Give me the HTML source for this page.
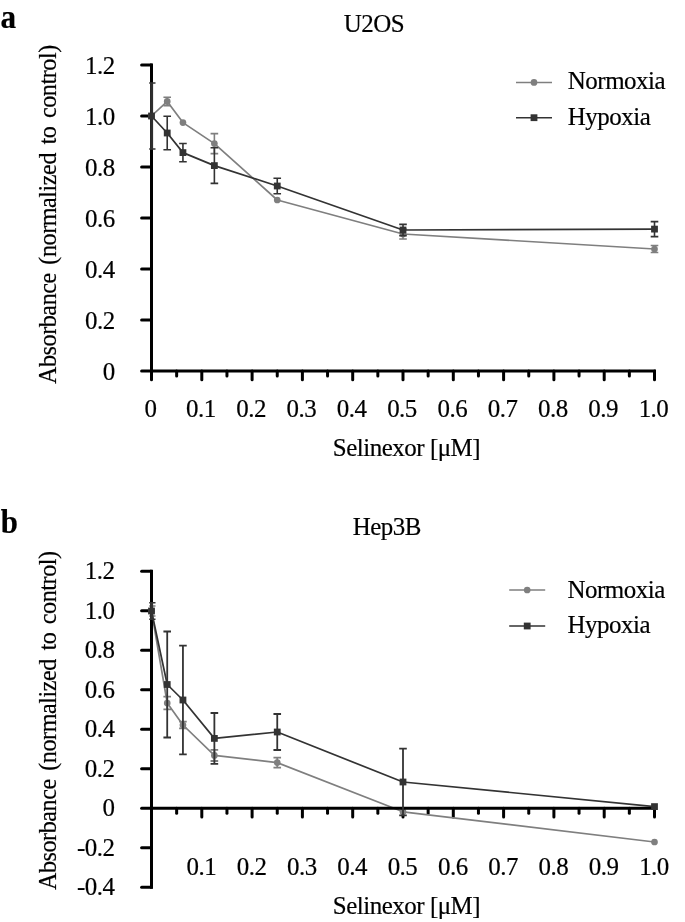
<!DOCTYPE html>
<html><head><meta charset="utf-8"><title>Selinexor</title>
<style>
html,body{margin:0;padding:0;background:#fff;}
body{width:685px;height:922px;overflow:hidden;}
svg{display:block;will-change:transform;font-family:"Liberation Serif",serif;font-size:24px;fill:#000;}
text{stroke:#000;stroke-width:0.2px;}
</style></head><body>
<svg width="685" height="922" viewBox="0 0 685 922">
<rect width="685" height="922" fill="#fff"/>
<g id="chartA">
<path d="M141.60 320.00H151.50" stroke="#000000" stroke-width="3" stroke-linecap="round" fill="none"/><path d="M141.60 269.00H151.50" stroke="#000000" stroke-width="3" stroke-linecap="round" fill="none"/><path d="M141.60 218.00H151.50" stroke="#000000" stroke-width="3" stroke-linecap="round" fill="none"/><path d="M141.60 167.00H151.50" stroke="#000000" stroke-width="3" stroke-linecap="round" fill="none"/><path d="M141.60 116.00H151.50" stroke="#000000" stroke-width="3" stroke-linecap="round" fill="none"/><path d="M141.60 65.00H151.50" stroke="#000000" stroke-width="3" stroke-linecap="round" fill="none"/>
<path d="M151.50 371.00V379.80" stroke="#000000" stroke-width="3" stroke-linecap="round" fill="none"/><path d="M176.65 371.00V376.00" stroke="#000000" stroke-width="3" stroke-linecap="round" fill="none"/><path d="M201.80 371.00V379.80" stroke="#000000" stroke-width="3" stroke-linecap="round" fill="none"/><path d="M226.95 371.00V376.00" stroke="#000000" stroke-width="3" stroke-linecap="round" fill="none"/><path d="M252.10 371.00V379.80" stroke="#000000" stroke-width="3" stroke-linecap="round" fill="none"/><path d="M277.25 371.00V376.00" stroke="#000000" stroke-width="3" stroke-linecap="round" fill="none"/><path d="M302.40 371.00V379.80" stroke="#000000" stroke-width="3" stroke-linecap="round" fill="none"/><path d="M327.55 371.00V376.00" stroke="#000000" stroke-width="3" stroke-linecap="round" fill="none"/><path d="M352.70 371.00V379.80" stroke="#000000" stroke-width="3" stroke-linecap="round" fill="none"/><path d="M377.85 371.00V376.00" stroke="#000000" stroke-width="3" stroke-linecap="round" fill="none"/><path d="M403.00 371.00V379.80" stroke="#000000" stroke-width="3" stroke-linecap="round" fill="none"/><path d="M428.15 371.00V376.00" stroke="#000000" stroke-width="3" stroke-linecap="round" fill="none"/><path d="M453.30 371.00V379.80" stroke="#000000" stroke-width="3" stroke-linecap="round" fill="none"/><path d="M478.45 371.00V376.00" stroke="#000000" stroke-width="3" stroke-linecap="round" fill="none"/><path d="M503.60 371.00V379.80" stroke="#000000" stroke-width="3" stroke-linecap="round" fill="none"/><path d="M528.75 371.00V376.00" stroke="#000000" stroke-width="3" stroke-linecap="round" fill="none"/><path d="M553.90 371.00V379.80" stroke="#000000" stroke-width="3" stroke-linecap="round" fill="none"/><path d="M579.05 371.00V376.00" stroke="#000000" stroke-width="3" stroke-linecap="round" fill="none"/><path d="M604.20 371.00V379.80" stroke="#000000" stroke-width="3" stroke-linecap="round" fill="none"/><path d="M629.35 371.00V376.00" stroke="#000000" stroke-width="3" stroke-linecap="round" fill="none"/><path d="M654.50 371.00V379.80" stroke="#000000" stroke-width="3" stroke-linecap="round" fill="none"/>
<polyline points="151.50,116.00 167.22,101.40 182.94,122.60 214.38,143.60 277.25,200.00 403.00,234.00 654.50,249.00" fill="none" stroke="#7f7f7f" stroke-width="1.7" stroke-linejoin="round"/>
<path d="M167.22 97.20V105.60M163.42 97.20H171.02M163.42 105.60H171.02" stroke="#7f7f7f" stroke-width="1.6" fill="none"/>
<path d="M214.38 133.60V153.60M210.57 133.60H218.18M210.57 153.60H218.18" stroke="#7f7f7f" stroke-width="1.6" fill="none"/>
<path d="M403.00 229.00V239.00M399.20 229.00H406.80M399.20 239.00H406.80" stroke="#7f7f7f" stroke-width="1.6" fill="none"/>
<path d="M654.50 245.50V252.50M650.70 245.50H658.30M650.70 252.50H658.30" stroke="#7f7f7f" stroke-width="1.6" fill="none"/>
<circle cx="151.50" cy="116.00" r="3.35" fill="#7f7f7f"/><circle cx="167.22" cy="101.40" r="3.35" fill="#7f7f7f"/><circle cx="182.94" cy="122.60" r="3.35" fill="#7f7f7f"/><circle cx="214.38" cy="143.60" r="3.35" fill="#7f7f7f"/><circle cx="277.25" cy="200.00" r="3.35" fill="#7f7f7f"/><circle cx="403.00" cy="234.00" r="3.35" fill="#7f7f7f"/><circle cx="654.50" cy="249.00" r="3.35" fill="#7f7f7f"/>
<path d="M151.50 63.50V372.50" stroke="#000000" stroke-width="3" fill="none"/><path d="M141.60 371.00H151.50" stroke="#000000" stroke-width="3" stroke-linecap="round" fill="none"/><path d="M151.50 371.00H656.00" stroke="#000000" stroke-width="3" fill="none"/>
<polyline points="151.50,116.00 167.22,133.00 182.94,152.60 214.38,165.60 277.25,186.00 403.00,230.00 654.50,229.10" fill="none" stroke="#333333" stroke-width="1.7" stroke-linejoin="round"/>
<path d="M151.60 82.90V149.10" stroke="#2e2e2e" stroke-width="3" fill="none"/><path d="M149.20 82.90H155.50M149.20 149.10H155.50" stroke="#333333" stroke-width="1.5" fill="none"/>
<path d="M167.22 116.30V149.70M163.42 116.30H171.02M163.42 149.70H171.02" stroke="#333333" stroke-width="1.6" fill="none"/>
<path d="M182.94 143.50V161.70M179.14 143.50H186.74M179.14 161.70H186.74" stroke="#333333" stroke-width="1.6" fill="none"/>
<path d="M214.38 147.80V183.40M210.57 147.80H218.18M210.57 183.40H218.18" stroke="#333333" stroke-width="1.6" fill="none"/>
<path d="M277.25 178.30V193.70M273.45 178.30H281.05M273.45 193.70H281.05" stroke="#333333" stroke-width="1.6" fill="none"/>
<path d="M403.00 224.40V235.60M399.20 224.40H406.80M399.20 235.60H406.80" stroke="#333333" stroke-width="1.6" fill="none"/>
<path d="M654.50 221.60V236.60M650.70 221.60H658.30M650.70 236.60H658.30" stroke="#333333" stroke-width="1.6" fill="none"/>
<rect x="148.10" y="112.60" width="6.80" height="6.80" fill="#333333"/><rect x="163.82" y="129.60" width="6.80" height="6.80" fill="#333333"/><rect x="179.54" y="149.20" width="6.80" height="6.80" fill="#333333"/><rect x="210.97" y="162.20" width="6.80" height="6.80" fill="#333333"/><rect x="273.85" y="182.60" width="6.80" height="6.80" fill="#333333"/><rect x="399.60" y="226.60" width="6.80" height="6.80" fill="#333333"/><rect x="651.10" y="225.70" width="6.80" height="6.80" fill="#333333"/>
<text transform="translate(114.70 379.80) scale(0.96 1)" font-size="26" letter-spacing="-0.5" text-anchor="end">0</text><text transform="translate(114.70 328.80) scale(0.96 1)" font-size="26" letter-spacing="-0.5" text-anchor="end">0.2</text><text transform="translate(114.70 277.80) scale(0.96 1)" font-size="26" letter-spacing="-0.5" text-anchor="end">0.4</text><text transform="translate(114.70 226.80) scale(0.96 1)" font-size="26" letter-spacing="-0.5" text-anchor="end">0.6</text><text transform="translate(114.70 175.80) scale(0.96 1)" font-size="26" letter-spacing="-0.5" text-anchor="end">0.8</text><text transform="translate(114.70 124.80) scale(0.96 1)" font-size="26" letter-spacing="-0.5" text-anchor="end">1.0</text><text transform="translate(114.70 73.80) scale(0.96 1)" font-size="26" letter-spacing="-0.5" text-anchor="end">1.2</text>
<text transform="translate(150.50 417.40) scale(0.96 1)" font-size="26" letter-spacing="-0.5" text-anchor="middle">0</text><text transform="translate(200.80 417.40) scale(0.96 1)" font-size="26" letter-spacing="-0.5" text-anchor="middle">0.1</text><text transform="translate(251.10 417.40) scale(0.96 1)" font-size="26" letter-spacing="-0.5" text-anchor="middle">0.2</text><text transform="translate(301.40 417.40) scale(0.96 1)" font-size="26" letter-spacing="-0.5" text-anchor="middle">0.3</text><text transform="translate(351.70 417.40) scale(0.96 1)" font-size="26" letter-spacing="-0.5" text-anchor="middle">0.4</text><text transform="translate(402.00 417.40) scale(0.96 1)" font-size="26" letter-spacing="-0.5" text-anchor="middle">0.5</text><text transform="translate(452.30 417.40) scale(0.96 1)" font-size="26" letter-spacing="-0.5" text-anchor="middle">0.6</text><text transform="translate(502.60 417.40) scale(0.96 1)" font-size="26" letter-spacing="-0.5" text-anchor="middle">0.7</text><text transform="translate(552.90 417.40) scale(0.96 1)" font-size="26" letter-spacing="-0.5" text-anchor="middle">0.8</text><text transform="translate(603.20 417.40) scale(0.96 1)" font-size="26" letter-spacing="-0.5" text-anchor="middle">0.9</text><text transform="translate(653.50 417.40) scale(0.96 1)" font-size="26" letter-spacing="-0.5" text-anchor="middle">1.0</text>
<text transform="translate(406.50 455.70) scale(0.96 1)" font-size="26" letter-spacing="-0.5" text-anchor="middle">Selinexor [μM]</text>
<text transform="translate(374.00 32.10) scale(0.96 1)" font-size="26" letter-spacing="-0.5" text-anchor="middle">U2OS</text>
<text transform="translate(56.4 214.6) rotate(-90) scale(0.945 1)" font-size="25.5" letter-spacing="-0.45" word-spacing="3.1" text-anchor="middle">Absorbance (normalized to control)</text>
<text transform="translate(0.5 28.3) scale(0.93 1)" font-weight="bold" font-size="33.6">a</text>
<path d="M516 82.4H552" stroke="#7f7f7f" stroke-width="1.5"/><circle cx="534" cy="82.4" r="3.35" fill="#7f7f7f"/><path d="M516 117.7H552" stroke="#333333" stroke-width="1.5"/><rect x="530.60" y="114.30" width="6.80" height="6.80" fill="#333333"/>
<text transform="translate(567.80 88.60) scale(0.96 1)" font-size="26" letter-spacing="-0.5" text-anchor="start">Normoxia</text><text transform="translate(567.80 124.90) scale(0.96 1)" font-size="26" letter-spacing="-0.5" text-anchor="start">Hypoxia</text>
</g>
<g id="chartB">
<path d="M141.60 887.20H151.50" stroke="#000000" stroke-width="3" stroke-linecap="round" fill="none"/><path d="M141.60 847.70H151.50" stroke="#000000" stroke-width="3" stroke-linecap="round" fill="none"/><path d="M141.60 768.70H151.50" stroke="#000000" stroke-width="3" stroke-linecap="round" fill="none"/><path d="M141.60 729.20H151.50" stroke="#000000" stroke-width="3" stroke-linecap="round" fill="none"/><path d="M141.60 689.70H151.50" stroke="#000000" stroke-width="3" stroke-linecap="round" fill="none"/><path d="M141.60 650.20H151.50" stroke="#000000" stroke-width="3" stroke-linecap="round" fill="none"/><path d="M141.60 610.70H151.50" stroke="#000000" stroke-width="3" stroke-linecap="round" fill="none"/><path d="M141.60 571.20H151.50" stroke="#000000" stroke-width="3" stroke-linecap="round" fill="none"/>
<path d="M151.50 808.20V817.00" stroke="#000000" stroke-width="3" stroke-linecap="round" fill="none"/><path d="M176.65 808.20V813.20" stroke="#000000" stroke-width="3" stroke-linecap="round" fill="none"/><path d="M201.80 808.20V817.00" stroke="#000000" stroke-width="3" stroke-linecap="round" fill="none"/><path d="M226.95 808.20V813.20" stroke="#000000" stroke-width="3" stroke-linecap="round" fill="none"/><path d="M252.10 808.20V817.00" stroke="#000000" stroke-width="3" stroke-linecap="round" fill="none"/><path d="M277.25 808.20V813.20" stroke="#000000" stroke-width="3" stroke-linecap="round" fill="none"/><path d="M302.40 808.20V817.00" stroke="#000000" stroke-width="3" stroke-linecap="round" fill="none"/><path d="M327.55 808.20V813.20" stroke="#000000" stroke-width="3" stroke-linecap="round" fill="none"/><path d="M352.70 808.20V817.00" stroke="#000000" stroke-width="3" stroke-linecap="round" fill="none"/><path d="M377.85 808.20V813.20" stroke="#000000" stroke-width="3" stroke-linecap="round" fill="none"/><path d="M403.00 808.20V817.00" stroke="#000000" stroke-width="3" stroke-linecap="round" fill="none"/><path d="M428.15 808.20V813.20" stroke="#000000" stroke-width="3" stroke-linecap="round" fill="none"/><path d="M453.30 808.20V817.00" stroke="#000000" stroke-width="3" stroke-linecap="round" fill="none"/><path d="M478.45 808.20V813.20" stroke="#000000" stroke-width="3" stroke-linecap="round" fill="none"/><path d="M503.60 808.20V817.00" stroke="#000000" stroke-width="3" stroke-linecap="round" fill="none"/><path d="M528.75 808.20V813.20" stroke="#000000" stroke-width="3" stroke-linecap="round" fill="none"/><path d="M553.90 808.20V817.00" stroke="#000000" stroke-width="3" stroke-linecap="round" fill="none"/><path d="M579.05 808.20V813.20" stroke="#000000" stroke-width="3" stroke-linecap="round" fill="none"/><path d="M604.20 808.20V817.00" stroke="#000000" stroke-width="3" stroke-linecap="round" fill="none"/><path d="M629.35 808.20V813.20" stroke="#000000" stroke-width="3" stroke-linecap="round" fill="none"/><path d="M654.50 808.20V817.00" stroke="#000000" stroke-width="3" stroke-linecap="round" fill="none"/>
<polyline points="151.50,611.00 167.22,703.00 182.94,725.00 214.38,755.40 277.25,762.60 403.00,811.80 654.50,842.00" fill="none" stroke="#7f7f7f" stroke-width="1.7" stroke-linejoin="round"/>
<path d="M151.60 606.00V616.00" stroke="#333" stroke-width="3" fill="none"/><path d="M149.20 606.00H155.50M149.20 616.00H155.50" stroke="#7f7f7f" stroke-width="1.5" fill="none"/>
<path d="M167.22 696.70V709.30M163.42 696.70H171.02M163.42 709.30H171.02" stroke="#7f7f7f" stroke-width="1.8" fill="none"/>
<path d="M182.94 721.60V728.40M179.14 721.60H186.74M179.14 728.40H186.74" stroke="#7f7f7f" stroke-width="1.8" fill="none"/>
<path d="M214.38 749.80V761.00M210.57 749.80H218.18M210.57 761.00H218.18" stroke="#7f7f7f" stroke-width="1.8" fill="none"/>
<path d="M277.25 757.60V767.60M273.45 757.60H281.05M273.45 767.60H281.05" stroke="#7f7f7f" stroke-width="1.8" fill="none"/>
<circle cx="151.50" cy="611.00" r="3.35" fill="#7f7f7f"/><circle cx="167.22" cy="703.00" r="3.35" fill="#7f7f7f"/><circle cx="182.94" cy="725.00" r="3.35" fill="#7f7f7f"/><circle cx="214.38" cy="755.40" r="3.35" fill="#7f7f7f"/><circle cx="277.25" cy="762.60" r="3.35" fill="#7f7f7f"/><circle cx="403.00" cy="811.80" r="3.35" fill="#7f7f7f"/><circle cx="654.50" cy="842.00" r="3.35" fill="#7f7f7f"/>
<path d="M151.50 569.70V888.70" stroke="#000000" stroke-width="3" fill="none"/><path d="M141.60 808.20H151.50" stroke="#000000" stroke-width="3" stroke-linecap="round" fill="none"/><path d="M151.50 808.20H656.00" stroke="#000000" stroke-width="3" fill="none"/>
<polyline points="151.50,611.00 167.22,684.50 182.94,700.00 214.38,738.40 277.25,732.00 403.00,782.00 654.50,806.60" fill="none" stroke="#333333" stroke-width="1.7" stroke-linejoin="round"/>
<path d="M151.60 602.70V619.30" stroke="#333" stroke-width="3" fill="none"/><path d="M149.20 602.70H155.50M149.20 619.30H155.50" stroke="#333333" stroke-width="1.5" fill="none"/>
<path d="M167.22 631.50V737.50M163.42 631.50H171.02M163.42 737.50H171.02" stroke="#333333" stroke-width="1.8" fill="none"/>
<path d="M182.94 645.60V754.40M179.14 645.60H186.74M179.14 754.40H186.74" stroke="#333333" stroke-width="1.8" fill="none"/>
<path d="M214.38 713.00V763.80M210.57 713.00H218.18M210.57 763.80H218.18" stroke="#333333" stroke-width="1.8" fill="none"/>
<path d="M277.25 714.00V750.00M273.45 714.00H281.05M273.45 750.00H281.05" stroke="#333333" stroke-width="1.8" fill="none"/>
<path d="M403.00 748.60V815.40M399.20 748.60H406.80M399.20 815.40H406.80" stroke="#333333" stroke-width="1.8" fill="none"/>
<rect x="148.10" y="607.60" width="6.80" height="6.80" fill="#333333"/><rect x="163.82" y="681.10" width="6.80" height="6.80" fill="#333333"/><rect x="179.54" y="696.60" width="6.80" height="6.80" fill="#333333"/><rect x="210.97" y="735.00" width="6.80" height="6.80" fill="#333333"/><rect x="273.85" y="728.60" width="6.80" height="6.80" fill="#333333"/><rect x="399.60" y="778.60" width="6.80" height="6.80" fill="#333333"/><rect x="651.10" y="803.20" width="6.80" height="6.80" fill="#333333"/>
<text transform="translate(114.50 895.00) scale(0.96 1)" font-size="26" letter-spacing="-0.5" text-anchor="end">-0.4</text><text transform="translate(114.50 855.50) scale(0.96 1)" font-size="26" letter-spacing="-0.5" text-anchor="end">-0.2</text><text transform="translate(114.50 816.00) scale(0.96 1)" font-size="26" letter-spacing="-0.5" text-anchor="end">0</text><text transform="translate(114.50 776.50) scale(0.96 1)" font-size="26" letter-spacing="-0.5" text-anchor="end">0.2</text><text transform="translate(114.50 737.00) scale(0.96 1)" font-size="26" letter-spacing="-0.5" text-anchor="end">0.4</text><text transform="translate(114.50 697.50) scale(0.96 1)" font-size="26" letter-spacing="-0.5" text-anchor="end">0.6</text><text transform="translate(114.50 658.00) scale(0.96 1)" font-size="26" letter-spacing="-0.5" text-anchor="end">0.8</text><text transform="translate(114.50 618.50) scale(0.96 1)" font-size="26" letter-spacing="-0.5" text-anchor="end">1.0</text><text transform="translate(114.50 579.00) scale(0.96 1)" font-size="26" letter-spacing="-0.5" text-anchor="end">1.2</text>
<text transform="translate(201.30 875.20) scale(0.96 1)" font-size="26" letter-spacing="-0.5" text-anchor="middle">0.1</text><text transform="translate(251.60 875.20) scale(0.96 1)" font-size="26" letter-spacing="-0.5" text-anchor="middle">0.2</text><text transform="translate(301.90 875.20) scale(0.96 1)" font-size="26" letter-spacing="-0.5" text-anchor="middle">0.3</text><text transform="translate(352.20 875.20) scale(0.96 1)" font-size="26" letter-spacing="-0.5" text-anchor="middle">0.4</text><text transform="translate(402.50 875.20) scale(0.96 1)" font-size="26" letter-spacing="-0.5" text-anchor="middle">0.5</text><text transform="translate(452.80 875.20) scale(0.96 1)" font-size="26" letter-spacing="-0.5" text-anchor="middle">0.6</text><text transform="translate(503.10 875.20) scale(0.96 1)" font-size="26" letter-spacing="-0.5" text-anchor="middle">0.7</text><text transform="translate(553.40 875.20) scale(0.96 1)" font-size="26" letter-spacing="-0.5" text-anchor="middle">0.8</text><text transform="translate(603.70 875.20) scale(0.96 1)" font-size="26" letter-spacing="-0.5" text-anchor="middle">0.9</text><text transform="translate(654.00 875.20) scale(0.96 1)" font-size="26" letter-spacing="-0.5" text-anchor="middle">1.0</text>
<text transform="translate(406.50 913.80) scale(0.96 1)" font-size="26" letter-spacing="-0.5" text-anchor="middle">Selinexor [μM]</text>
<text transform="translate(386.80 534.80) scale(0.96 1)" font-size="26" letter-spacing="-0.5" text-anchor="middle">Hep3B</text>
<text transform="translate(56.4 720.7) rotate(-90) scale(0.945 1)" font-size="25.5" letter-spacing="-0.45" word-spacing="3.1" text-anchor="middle">Absorbance (normalized to control)</text>
<text transform="translate(0.8 532.5) scale(0.93 1)" font-weight="bold" font-size="33.2">b</text>
<path d="M509.2 590H545.2" stroke="#7f7f7f" stroke-width="1.5"/><circle cx="527.2" cy="590" r="3.35" fill="#7f7f7f"/><path d="M509.2 626.0H545.2" stroke="#333333" stroke-width="1.5"/><rect x="523.80" y="622.60" width="6.80" height="6.80" fill="#333333"/>
<text transform="translate(567.50 597.90) scale(0.96 1)" font-size="26" letter-spacing="-0.5" text-anchor="start">Normoxia</text><text transform="translate(567.50 633.30) scale(0.96 1)" font-size="26" letter-spacing="-0.5" text-anchor="start">Hypoxia</text>
</g>
</svg>
</body></html>
